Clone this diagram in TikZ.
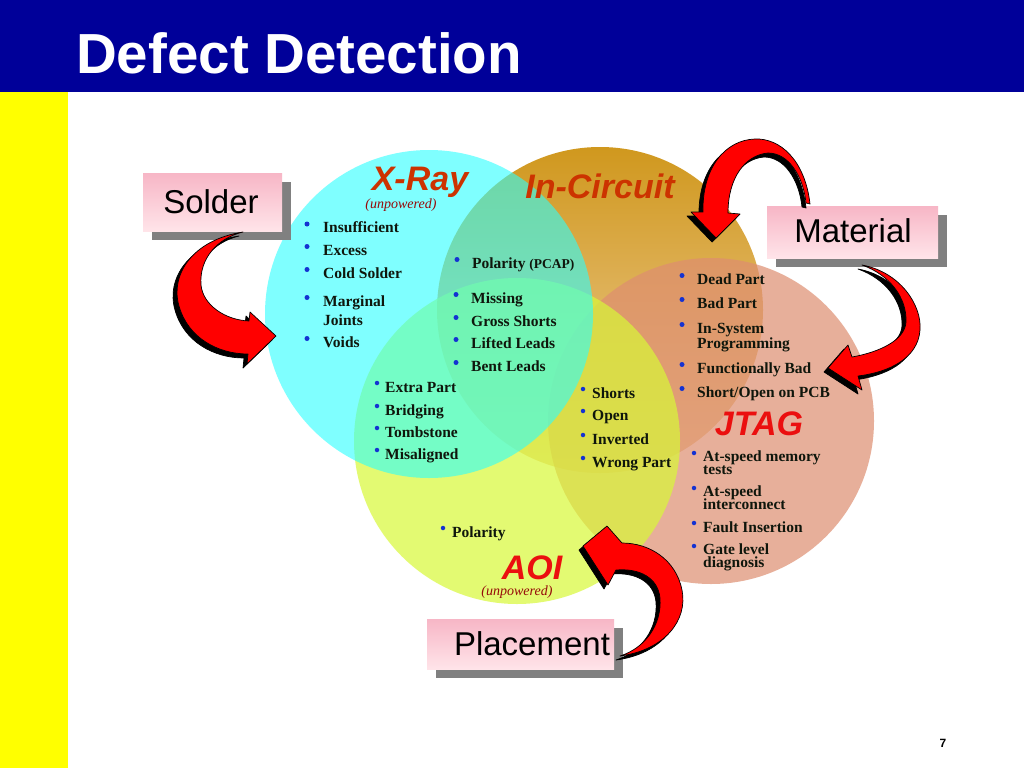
\documentclass[tikz,border=0pt]{standalone}
\usepackage{fontspec}
\setmainfont{Liberation Serif}
\newfontfamily\arialfont{Liberation Sans}
\usetikzlibrary{shadows}
\definecolor{titleblue}{RGB}{0,0,153}
\definecolor{stripyellow}{RGB}{255,255,0}
\definecolor{goldtop}{RGB}{208,152,30}
\definecolor{goldbot}{RGB}{240,208,160}
\definecolor{jtagc}{RGB}{222,142,112}
\definecolor{aoic}{RGB}{216,248,55}
\definecolor{xrayc}{RGB}{43,255,255}
\definecolor{headorange}{RGB}{204,51,0}
\definecolor{headred}{RGB}{235,15,15}
\definecolor{unpow}{RGB}{150,10,10}
\definecolor{bulletblue}{RGB}{20,50,210}
\definecolor{itemtext}{RGB}{15,22,12}
\definecolor{pinktop}{RGB}{247,182,198}
\definecolor{pinkbot}{RGB}{255,228,233}
\definecolor{shadowgray}{RGB}{128,128,128}
\definecolor{arrowred}{RGB}{255,0,0}
\begin{document}
\begin{tikzpicture}[x=1pt,y=-1pt,
  item/.style={anchor=base west, inner sep=0pt, text=itemtext,
    font=\bfseries\fontsize{15.5}{15}\selectfont},
  dot/.style={circle, fill=bulletblue, inner sep=0pt, minimum size=5pt},
  sdot/.style={circle, fill=bulletblue, inner sep=0pt, minimum size=4.5pt},
  head/.style={anchor=base, inner sep=0pt,
    font=\arialfont\bfseries\itshape\fontsize{34}{34}\selectfont},
  unp/.style={anchor=base, inner sep=0pt, text=unpow,
    font=\itshape\fontsize{14}{14}\selectfont},
  lbox/.style={rectangle, inner sep=0pt, top color=pinktop, bottom color=pinkbot,
    drop shadow={shadow xshift=9pt, shadow yshift=-9pt, fill=shadowgray, opacity=1}},
  ltext/.style={anchor=base, inner sep=0pt, text=black,
    font=\arialfont\fontsize{33}{33}\selectfont},
  arrowbody/.style={draw=black, line width=0.7pt, line join=round}
]
\useasboundingbox (0,0) rectangle (1024,768);
\fill[white] (0,0) rectangle (1024,768);
% title bar and strip
\fill[titleblue] (0,0) rectangle (1024,92);
\fill[stripyellow] (0,92) rectangle (68,768);
\node[anchor=base west, inner sep=0pt, text=white,
  font=\arialfont\bfseries\fontsize{56.5}{56.5}\selectfont] (title) at (76,74) {Defect Detection};
\node[anchor=base, inner sep=0pt, font=\arialfont\bfseries\fontsize{12}{12}\selectfont] (pageno) at (943,747) {7};

% circles
\shade[top color=goldtop, bottom color=goldbot] (600,310) circle (163);
\fill[jtagc, fill opacity=0.7] (711,421) circle (163);
\fill[aoic, fill opacity=0.7] (517,441) circle (163);
\fill[xrayc, fill opacity=0.6] (429,314) circle (164);

% headings
\node[head, text=headorange] (xray) at (420,190) {X-Ray};
\node[unp] (xrayunp) at (401,208) {(unpowered)};
\node[head, text=headorange] (incircuit) at (600,198) {In-Circuit};
\node[head, text=headred] (jtag) at (759,435) {JTAG};
\node[head, text=headred] (aoi) at (532,579) {AOI};
\node[unp] (aoiunp) at (517,595) {(unpowered)};

% X-Ray list
\foreach \n/\t/\y in {1/Insufficient/232, 2/Excess/255, 3/Cold Solder/278,
    4/Marginal/306, 5/Joints/325, 6/Voids/347}
  \node[item] (xr\n) at (323,\y) {\t};
\foreach \n/\y in {1/224, 2/246.5, 3/269.5, 4/297.5, 6/338.5}
  \node[dot] (xrb\n) at (307,\y) {};

% In-Circuit list
\node[item] (ic0) at (472,268) {Polarity {\fontsize{13.5}{13.5}\selectfont(PCAP)}};
\node[dot] (icb0) at (457,259.5) {};
\foreach \n/\t/\y in {1/Missing/303, 2/Gross Shorts/326, 3/Lifted Leads/348, 4/Bent Leads/371}
  \node[item] (ic\n) at (471,\y) {\t};
\foreach \n/\y in {1/294.5, 2/317.5, 3/339.5, 4/362.5}
  \node[dot] (icb\n) at (456,\y) {};

% JTAG upper list
\foreach \n/\t/\y in {1/Dead Part/284, 2/Bad Part/308, 3/In-System/333, 4/Programming/348,
    5/Functionally Bad/373, 6/{Short/Open on PCB}/397}
  \node[item] (jt\n) at (697,\y) {\t};
\foreach \n/\y in {1/275.5, 2/299.5, 3/324.5, 5/364.5, 6/388.5}
  \node[dot] (jtb\n) at (682,\y) {};

% X-Ray / AOI list
\foreach \n/\t/\y in {1/Extra Part/392, 2/Bridging/415, 3/Tombstone/437, 4/Misaligned/459}
  \node[item] (xa\n) at (385,\y) {\t};
\foreach \n/\y in {1/383, 2/406, 3/428, 4/450}
  \node[sdot] (xab\n) at (377,\y) {};

% AOI / JTAG list
\foreach \n/\t/\y in {1/Shorts/398, 2/Open/420, 3/Inverted/444, 4/Wrong Part/467}
  \node[item] (aj\n) at (592,\y) {\t};
\foreach \n/\y in {1/389, 2/411, 3/435, 4/458}
  \node[sdot] (ajb\n) at (583,\y) {};

% JTAG lower list
\foreach \n/\t/\y in {1/At-speed memory/461.5, 2/tests/474, 3/At-speed/496.5, 4/interconnect/509.5,
    5/Fault Insertion/532, 6/Gate level/554.5, 7/diagnosis/567.5}
  \node[item] (jl\n) at (703,\y) {\t};
\foreach \n/\y in {1/453, 3/488, 5/523, 6/546}
  \node[sdot] (jlb\n) at (694,\y) {};

% AOI polarity
\node[item] (ao1) at (452,537) {Polarity};
\node[sdot] (aob1) at (443,528) {};

% label boxes
\node[lbox, minimum width=139pt, minimum height=58pt] (solderbox) at (212.5,202) {};
\node[ltext] (solder) at (211,213) {Solder};
\node[lbox, minimum width=171pt, minimum height=52pt] (materialbox) at (852.5,232) {};
\node[ltext] (material) at (853,242) {Material};
\node[lbox, minimum width=187pt, minimum height=50pt] (placementbox) at (520.5,644) {};
\node[ltext] (placement) at (532,655) {Placement};

% curved arrows (shadow, then body)
\foreach \dx/\dy/\fc in {-4/4/black, 0/0/arrowred} {
  \filldraw[arrowbody, fill=\fc, shift={(\dx,\dy)}]
    (243,232) .. controls (192,240) and (170,275) .. (179,306)
    .. controls (188,338) and (218,354) .. (248,354)
    -- (247,364) -- (276,336) -- (250,312) -- (249,321)
    .. controls (225,320) and (203,305) .. (201,285)
    .. controls (199,258) and (218,238) .. (243,232) -- cycle;
  \filldraw[arrowbody, fill=\fc, shift={(\dx,\dy)}]
    (810,204) .. controls (805,160) and (780,138) .. (755,139)
    .. controls (725,140) and (702,168) .. (703,212)
    -- (691,212) -- (716,238) -- (740,214) -- (728,213)
    .. controls (728,178) and (745,155) .. (768,153)
    .. controls (788,153) and (803,175) .. (806,203) -- cycle;
  \filldraw[arrowbody, fill=\fc, shift={(\dx,\dy)}]
    (862,265) .. controls (900,272) and (922,305) .. (920,330)
    .. controls (918,358) and (890,372) .. (858,376)
    -- (862,390) -- (828,368) -- (848,345) -- (852,357)
    .. controls (880,352) and (905,340) .. (906,322)
    .. controls (907,298) and (890,275) .. (862,265) -- cycle;
  \filldraw[arrowbody, fill=\fc, shift={(\dx,\dy)}]
    (620,656) .. controls (665,650) and (688,620) .. (682,590)
    .. controls (676,560) and (650,543) .. (622,543)
    -- (607,526) -- (583,546) -- (608,585) -- (616,570)
    .. controls (640,568) and (658,578) .. (660,598)
    .. controls (662,625) and (645,648) .. (620,656) -- cycle;
}
\end{tikzpicture}
\end{document}
